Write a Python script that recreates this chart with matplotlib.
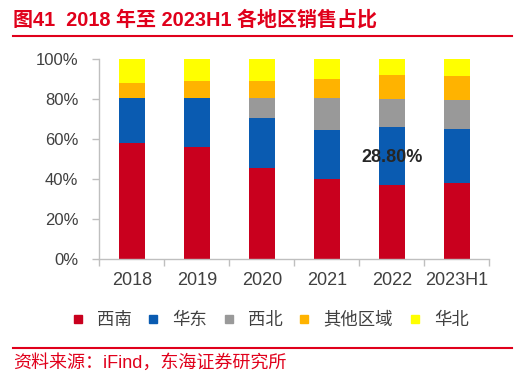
import numpy as np
import matplotlib
matplotlib.use('Agg')
import matplotlib.pyplot as plt
from matplotlib.lines import Line2D

plt.rcParams['font.family'] = ['Liberation Sans', 'Noto Sans CJK SC']

years = ['2018', '2019', '2020', '2021', '2022', '2023H1']
regions = ['西南', '华东', '西北', '其他区域', '华北']
# shares in %
xinan = [58.2, 56.0, 45.5, 40.2, 37.2, 38.0]
huadong = [22.3, 24.8, 25.2, 24.5, 28.8, 27.0]
xibei = [0.0, 0.0, 10.1, 16.0, 14.2, 14.8]
qita = [7.7, 8.4, 8.5, 9.6, 11.8, 11.7]
huabei = [11.8, 10.8, 10.7, 9.7, 8.0, 8.5]
series = [xinan, huadong, xibei, qita, huabei]
colors = ['#C9001E', '#0A5BB1', '#999999', '#FFB300', '#FFFF00']

note_text = '28.80%'
note_idx = 4

red = '#E0001B'
txt = '#404040'

fig = plt.figure(figsize=(5.2, 3.81), dpi=100)
ax = fig.add_axes([99.3 / 520, 1 - 259.3 / 381, 390 / 520, 200 / 381])

x = np.arange(len(years))
bottom = np.zeros(len(years))
for vals, c, name in zip(series, colors, regions):
    vals = np.array(vals)
    ax.bar(x, vals, width=0.4, bottom=bottom, color=c, label=name, zorder=2)
    bottom += vals

ax.text(x[note_idx], 51, note_text, ha='center', va='center',
        fontsize=13, fontweight='bold', color='#262626', zorder=3)

ax.set_xlim(-0.5, len(years) - 0.5)
ax.set_ylim(0, 100)
ax.set_yticks(np.arange(0, 101, 20))
ax.set_yticklabels([f'{v}%' for v in range(0, 101, 20)])
ax.set_xticks(x)
ax.set_xticklabels(years)
ax.set_xticks(np.arange(-0.5, len(years)), minor=True)
ax.tick_params(axis='x', which='major', length=0, pad=9, labelsize=13, labelcolor=txt)
ax.tick_params(axis='x', which='minor', length=5, color='#BFBFBF', width=1)
ax.tick_params(axis='y', length=5, color='#BFBFBF', width=1, pad=10,
               labelsize=12, labelcolor=txt)
for s in ['top', 'right']:
    ax.spines[s].set_visible(False)
for s in ['left', 'bottom']:
    ax.spines[s].set_color('#BFBFBF')
    ax.spines[s].set_linewidth(1)

handles = [Line2D([], [], marker='s', linestyle='none', markersize=6,
                  markerfacecolor=c, markeredgecolor=c) for c in colors]
fig.legend(handles, regions, loc='center', bbox_to_anchor=(271 / 520, 1 - 319.3 / 381),
           ncol=5, frameon=False, fontsize=12.5, labelcolor=txt,
           handlelength=0.5, handletextpad=0.85, columnspacing=1.0,
           borderpad=0, borderaxespad=0)

fig.text(13 / 520, 1 - 20 / 381, '图41  2018 年至 2023H1 各地区销售占比',
         ha='left', va='center', fontsize=14.4, fontweight='bold', color=red)
fig.add_artist(Line2D([13 / 520, 512 / 520], [1 - 35.7 / 381] * 2, color=red, linewidth=1.5))
fig.add_artist(Line2D([13 / 520, 512 / 520], [1 - 348.3 / 381] * 2, color=red, linewidth=1.5))
fig.text(13 / 520, 1 - 362.7 / 381, '资料来源：iFind，东海证券研究所',
         ha='left', va='center', fontsize=13, color=red)

fig.savefig('out.png', dpi=100)
